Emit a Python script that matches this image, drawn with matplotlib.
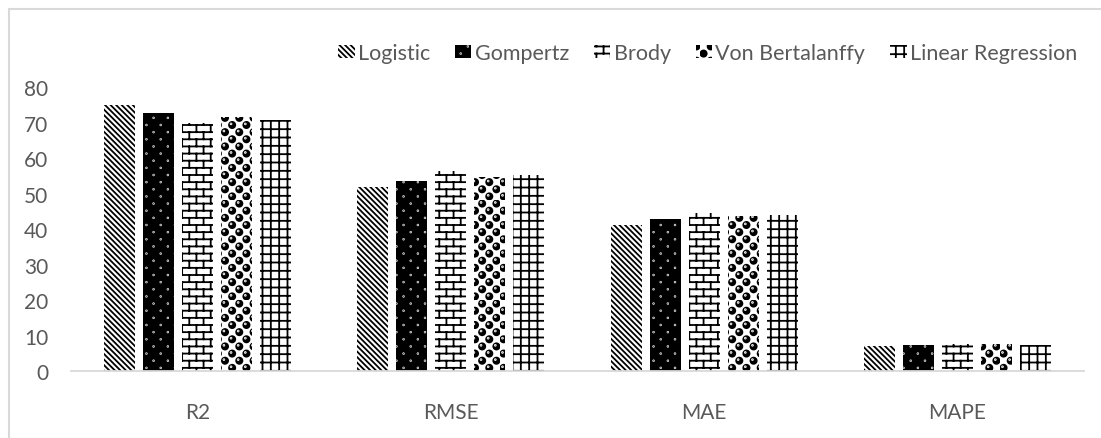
import warnings

import numpy as np
import matplotlib
matplotlib.use('Agg')
from matplotlib import pyplot as plt
from matplotlib import hatch as mhatch
from matplotlib.path import Path
from matplotlib.patches import Rectangle

warnings.filterwarnings('ignore')

# Values
metrics = ['R2', 'RMSE', 'MAE', 'MAPE']
models = ['Logistic', 'Gompertz', 'Brody', 'Von Bertalanffy', 'Linear Regression']
logistic = [74.9, 51.9, 41.3, 7.2]
gompertz = [72.8, 53.6, 42.8, 7.5]
brody = [69.8, 56.5, 44.6, 7.7]
von_bertalanffy = [71.6, 54.7, 43.8, 7.7]
linear_regression = [70.7, 55.3, 44.0, 7.4]
yticks = [0, 10, 20, 30, 40, 50, 60, 70, 80]

plt.rcParams['font.family'] = ['Lato', 'DejaVu Sans']
plt.rcParams['hatch.linewidth'] = 1.3

text_grey = '#595959'
line_grey = '#d9d9d9'


# ---- custom fill patterns (bricks, dots, spheres), registered as hatch letters ----
def register_hatch(char, paths):
    path = Path.make_compound_path(*paths)
    verts = path.vertices.copy()
    codes = path.codes.copy()

    class CustomHatch(mhatch.HatchPatternBase):
        def __init__(self, hatch, density):
            self.num_vertices = len(verts) if char in hatch else 0

        def set_vertices_and_codes(self, vertices, codes_out):
            vertices[:] = verts
            codes_out[:] = codes

    mhatch._hatch_types.append(CustomHatch)


def brick_paths(rows=14, cols=7):
    h = 1 / rows
    w = 1 / cols
    paths = []
    for k in range(rows):
        y = (k + 0.5) * h
        paths.append(Path([[0, y], [1, y]]))
        shift = 0.25 if k % 2 == 0 else 0.75
        for j in range(cols):
            x = (j + shift) * w
            for dy in (-1, 0):
                paths.append(Path([[x, y + dy], [x, y + h + dy]]))
    return paths


def lattice_circles(rows, cols, radius, dx=0.0, dy=0.0):
    h = 1 / rows
    w = 1 / cols
    paths = []
    for k in range(-1, rows + 1):
        shift = 0.25 if k % 2 == 0 else 0.75
        for j in range(-1, cols + 1):
            cx = (j + shift) * w + dx
            cy = (k + 0.5) * h + dy
            if -radius < cx < 1 + radius and -radius < cy < 1 + radius:
                paths.append(Path.circle((cx, cy), radius))
    return paths


register_hatch('b', brick_paths())
register_hatch('d', lattice_circles(14, 7, 0.003))
register_hatch('s', lattice_circles(14, 7, 0.031))
register_hatch('h', lattice_circles(14, 7, 0.004, dx=-0.011, dy=0.011))

series = [logistic, gompertz, brody, von_bertalanffy, linear_regression]
hatches = ['\\' * 6, 'd', 'b', 's', '++']
faces = ['white', 'black', 'white', 'white', 'white']
hatch_colors = ['black', 'white', 'black', 'black', 'black']

fig = plt.figure(figsize=(11.01, 4.39), dpi=100)
ax = fig.add_axes([0.0645, 0.1515, 0.920, 0.648])

x = np.arange(len(metrics))
step = 0.154
width = 0.1224
bars = []
for i, vals in enumerate(series):
    b = ax.bar(x + (i - 2) * step, vals, width, color=faces[i],
               edgecolor=hatch_colors[i], linewidth=0, hatch=hatches[i],
               label=models[i])
    bars.append(b)

# sphere highlights on the Von Bertalanffy bars
ax.bar(x + step, von_bertalanffy, width, color='none', edgecolor='white',
       linewidth=0, hatch='h')

ax.set_xlim(-0.5, len(metrics) - 0.5)
ax.set_ylim(0, 80)
ax.set_yticks(yticks)
ax.set_xticks(x)
ax.set_xticklabels(metrics)
ax.tick_params(axis='both', length=0, labelsize=15, labelcolor=text_grey)
ax.tick_params(axis='y', pad=16.5)
ax.tick_params(axis='x', pad=22)
for side in ['left', 'right', 'top']:
    ax.spines[side].set_visible(False)
ax.spines['bottom'].set_color(line_grey)
ax.spines['bottom'].set_linewidth(1.3)

fig.legend(handles=bars, labels=models, ncol=5, loc='center right',
           bbox_to_anchor=(1077 / 1101, 0.877), frameon=False, fontsize=15.5,
           labelcolor=text_grey, handlelength=0.77, handleheight=0.6,
           handletextpad=0.15, columnspacing=1.15, borderaxespad=0, borderpad=0)

# chart area border (right and bottom edges fall outside the picture)
fig.add_artist(Rectangle((8.5 / 1101, -0.05), 1.0, (439 - 9.5) / 439 + 0.05,
                         transform=fig.transFigure, fill=False,
                         edgecolor=line_grey, linewidth=1.5))

fig.savefig('out.png', dpi=100)
